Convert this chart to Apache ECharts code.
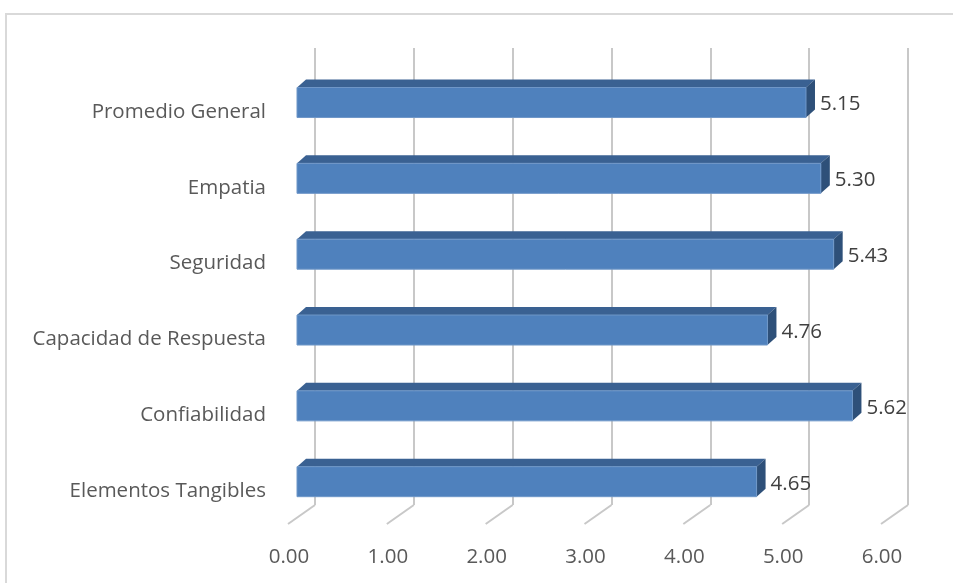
<!DOCTYPE html>
<html>
<head>
<meta charset="utf-8">
<script src="https://cdn.jsdelivr.net/npm/echarts@6/dist/echarts.min.js"></script>
<style>
  html, body { margin: 0; padding: 0; background: #fff; }
  #chart { width: 953px; height: 583px; }
</style>
</head>
<body>
<div id="chart"></div>
<script>
// datos (de abajo hacia arriba)
const categories = ['Elementos Tangibles', 'Confiabilidad', 'Capacidad de Respuesta', 'Seguridad', 'Empatia', 'Promedio General']
const values = [4.65, 5.62, 4.76, 5.43, 5.30, 5.15]
const ticks = [0, 1, 2, 3, 4, 5, 6]

const FONT = 'Open Sans'
const myChart = echarts.init(document.getElementById('chart'))

// profundidad del efecto 3D
const dx = 9
const dy = 8
const barH = 30

function renderBar (params, api) {
  const idx = api.value(1)
  const s = api.coord([0, idx])
  const e = api.coord([api.value(0), idx])
  const top = s[1] - barH / 2
  const x0 = s[0]
  const x1 = e[0]
  return {
    type: 'group',
    children: [
      {
        type: 'polygon',
        shape: { points: [[x0, top], [x0 + dx, top - dy], [x1 + dx, top - dy], [x1, top]] },
        style: { fill: '#3a6192' }
      },
      {
        type: 'polygon',
        shape: { points: [[x1, top], [x1 + dx, top - dy], [x1 + dx, top - dy + barH], [x1, top + barH]] },
        style: { fill: '#2e5079' }
      },
      {
        type: 'rect',
        shape: { x: x0, y: top, width: x1 - x0, height: barH },
        style: { fill: '#4f81bd', stroke: '#6f97c8', lineWidth: 1 }
      },
      {
        type: 'text',
        x: x1 + dx + 5,
        y: s[1] + 2,
        style: {
          text: api.value(0).toFixed(2),
          fill: '#404040',
          font: '20.5px "' + FONT + '"',
          align: 'left',
          verticalAlign: 'middle'
        }
      }
    ]
  }
}

function renderFloor (params, api) {
  const p = api.coord([api.value(0), 0])
  const bottom = params.coordSys.y + params.coordSys.height
  return {
    type: 'polyline',
    shape: { points: [[p[0], bottom], [p[0] - 27, bottom + 19]] },
    style: { stroke: '#c8c8c8', lineWidth: 2, fill: null }
  }
}

myChart.setOption({
  backgroundColor: '#fff',
  animation: false,
  graphic: [{
    type: 'rect',
    shape: { x: 6, y: 14, width: 960, height: 600 },
    style: { fill: null, stroke: '#d9d9d9', lineWidth: 2 }
  }],
  grid: [
    // pared del fondo
    { left: 315, width: 593, top: 48, height: 457 },
    // plano frontal de las barras
    { left: 297, width: 593, top: 64.6, height: 455 },
    // etiquetas de categorias
    { left: 297, width: 593, top: 74, height: 455 }
  ],
  xAxis: [
    {
      gridIndex: 0,
      type: 'value',
      min: 0,
      max: 6,
      interval: 1,
      axisLine: { show: false },
      axisTick: { show: false },
      axisLabel: { show: false },
      splitLine: { lineStyle: { color: '#c8c8c8', width: 2 } }
    },
    {
      gridIndex: 1,
      type: 'value',
      min: 0,
      max: 6,
      interval: 1,
      axisLine: { show: false },
      axisTick: { show: false },
      splitLine: { show: false },
      axisLabel: {
        color: '#595959',
        fontFamily: FONT,
        fontSize: 20.5,
        margin: 27,
        padding: [0, 16, 0, 0],
        formatter: v => v.toFixed(2)
      }
    },
    {
      gridIndex: 2,
      type: 'value',
      min: 0,
      max: 6,
      show: false
    }
  ],
  yAxis: [
    {
      gridIndex: 0,
      type: 'category',
      data: categories,
      show: false
    },
    {
      gridIndex: 1,
      type: 'category',
      data: categories,
      show: false
    },
    {
      gridIndex: 2,
      type: 'category',
      data: categories,
      axisLine: { show: false },
      axisTick: { show: false },
      splitLine: { show: false },
      axisLabel: {
        color: '#595959',
        fontFamily: FONT,
        fontSize: 20.5,
        margin: 31
      }
    }
  ],
  series: [
    {
      type: 'custom',
      xAxisIndex: 0,
      yAxisIndex: 0,
      renderItem: renderFloor,
      data: ticks.map(t => [t]),
      silent: true
    },
    {
      type: 'custom',
      xAxisIndex: 1,
      yAxisIndex: 1,
      renderItem: renderBar,
      encode: { x: 0, y: 1 },
      data: values.map((v, i) => [v, i]),
      z: 3
    }
  ]
})
</script>
</body>
</html>
